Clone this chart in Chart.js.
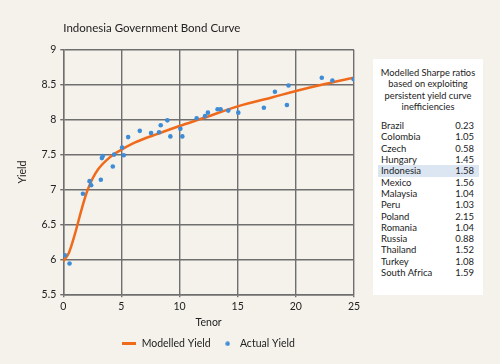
<!DOCTYPE html>
<html>
<head>
<meta charset="utf-8">
<script src="https://cdn.jsdelivr.net/npm/chart.js@4.4.1/dist/chart.umd.min.js"></script>
<style>
  html, body { margin: 0; padding: 0; background: #f4f2eb; }
  #wrap { position: relative; width: 500px; height: 364px; }
  #sharpe {
    position: absolute; left: 373px; top: 59px; width: 110px; height: 236px;
    background: #fff; font-family: "Lato", sans-serif; font-size: 9.5px; color: #222;
  }
  #sharpe .head { text-align: center; line-height: 11.3px; padding-top: 8px; font-size: 9.3px; }
  #sharpe table { border-collapse: collapse; margin: 8px 0 0 5px; width: 101px; }
  #sharpe td { padding: 0 3px; height: 11.3px; line-height: 11.3px; }
  #sharpe td.v { text-align: right; padding-right: 5px; }
  #sharpe tr.hl td { background: #dce6f2; }
</style>
</head>
<body>
<div id="wrap">
  <canvas id="bondChart" width="500" height="364"></canvas>
  <div id="sharpe">
    <div class="head">Modelled Sharpe ratios<br>based on exploiting<br>persistent yield curve<br>inefficiencies</div>
    <table id="sharpe-rows"></table>
  </div>
</div>
<script>
// data
const actualTenor = [0.14, 0.54, 1.69, 2.26, 2.4, 3.23, 3.32, 3.4, 4.26, 4.37, 5.06, 5.2, 5.58, 6.58, 7.55, 8.24, 8.38, 8.95, 9.21, 10.07, 10.24, 11.47, 12.19, 12.44, 13.27, 13.53, 14.19, 15.05, 17.25, 18.2, 19.23, 19.37, 22.23, 23.14, 24.97];
const actualYield = [6.06, 5.94, 6.94, 7.12, 7.06, 7.14, 7.45, 7.48, 7.33, 7.5, 7.6, 7.49, 7.75, 7.84, 7.81, 7.82, 7.92, 7.99, 7.76, 7.87, 7.76, 8.02, 8.05, 8.1, 8.15, 8.15, 8.13, 8.1, 8.17, 8.4, 8.21, 8.49, 8.6, 8.56, 8.58];

const modelTenor = [0, 0.5, 1, 1.5, 2, 2.5, 3, 4, 5, 6, 7, 8, 10, 12, 15, 18, 20, 22.5, 25];
const modelYield = [5.97, 6.1, 6.36, 6.67, 6.95, 7.15, 7.29, 7.46, 7.57, 7.66, 7.73, 7.79, 7.91, 8.02, 8.19, 8.32, 8.41, 8.51, 8.6];

const countries = ["Brazil", "Colombia", "Czech", "Hungary", "Indonesia", "Mexico", "Malaysia", "Peru", "Poland", "Romania", "Russia", "Thailand", "Turkey", "South Africa"];
const sharpeRatios = ["0.23", "1.05", "0.58", "1.45", "1.58", "1.56", "1.04", "1.03", "2.15", "1.04", "0.88", "1.52", "1.08", "1.59"];

const ORANGE = "#f06a1c";
const BLUE = "#3e8bd6";
const GRID = "#6f6f6f";
const FONT = "Lato, sans-serif";

// side table
const rows = document.getElementById("sharpe-rows");
countries.forEach((c, i) => {
  rows.innerHTML += `<tr class="${c === "Indonesia" ? "hl" : ""}"><td>${c}</td><td class="v">${sharpeRatios[i]}</td></tr>`;
});

// small legend markers
function legendLine() {
  const c = document.createElement("canvas");
  c.width = 14; c.height = 3;
  const g = c.getContext("2d");
  g.fillStyle = ORANGE;
  g.fillRect(0, 0, 14, 3);
  return c;
}
function legendDot() {
  const c = document.createElement("canvas");
  c.width = 5; c.height = 5;
  const g = c.getContext("2d");
  g.fillStyle = BLUE;
  g.beginPath();
  g.arc(2.5, 2.5, 2.2, 0, Math.PI * 2);
  g.fill();
  return c;
}
const markers = [legendLine(), legendDot()];

Chart.defaults.font.family = FONT;
Chart.defaults.color = "#222";

new Chart(document.getElementById("bondChart").getContext("2d"), {
  type: "scatter",
  data: {
    datasets: [
      {
        type: "line",
        label: "Modelled Yield",
        data: modelTenor.map((x, i) => ({ x, y: modelYield[i] })),
        borderColor: ORANGE,
        borderWidth: 2.5,
        pointRadius: 0,
        cubicInterpolationMode: "monotone",
        fill: false,
        order: 1,
      },
      {
        label: "Actual Yield",
        data: actualTenor.map((x, i) => ({ x, y: actualYield[i] })),
        backgroundColor: BLUE,
        borderWidth: 0,
        pointRadius: 2.3,
        order: 0,
      },
    ],
  },
  options: {
    responsive: false,
    animation: false,
    layout: { padding: { left: 16, right: 146, top: 21, bottom: 5 } },
    scales: {
      x: {
        type: "linear",
        min: 0, max: 25,
        ticks: { stepSize: 5, font: { size: 10.5 }, padding: 3 },
        grid: { color: GRID, lineWidth: 1.4, tickLength: 3 },
        border: { color: GRID, width: 1.4 },
        title: { display: true, text: "Tenor", font: { size: 10.5 }, padding: { top: 0, bottom: 0 } },
      },
      y: {
        min: 5.5, max: 9,
        ticks: {
          stepSize: 0.5, font: { size: 10.5 }, padding: 4,
          callback: (v) => String(+v.toFixed(1)),
        },
        grid: { color: GRID, lineWidth: 1.4, tickLength: 3 },
        border: { color: GRID, width: 1.4 },
        title: { display: true, text: "Yield", font: { size: 10.5 }, padding: { top: 0, bottom: 9 } },
      },
    },
    plugins: {
      title: {
        display: true,
        fullSize: false,
        align: "start",
        text: "Indonesia Government Bond Curve",
        font: { size: 11.5, weight: "normal" },
        color: "#222",
        padding: { top: 0, bottom: 15 },
      },
      legend: {
        position: "bottom",
        fullSize: false,
        labels: {
          usePointStyle: true,
          boxHeight: 5,
          pointStyleWidth: 14,
          padding: 10,
          font: { size: 10.5 },
          generateLabels: (chart) =>
            chart.data.datasets.map((ds, i) => ({
              text: ds.label,
              pointStyle: markers[i],
              datasetIndex: i,
              hidden: false,
              lineWidth: 0,
              strokeStyle: "transparent",
              fillStyle: "transparent",
              fontColor: "#222",
            })),
        },
      },
      tooltip: { enabled: false },
    },
  },
});
</script>
</body>
</html>
